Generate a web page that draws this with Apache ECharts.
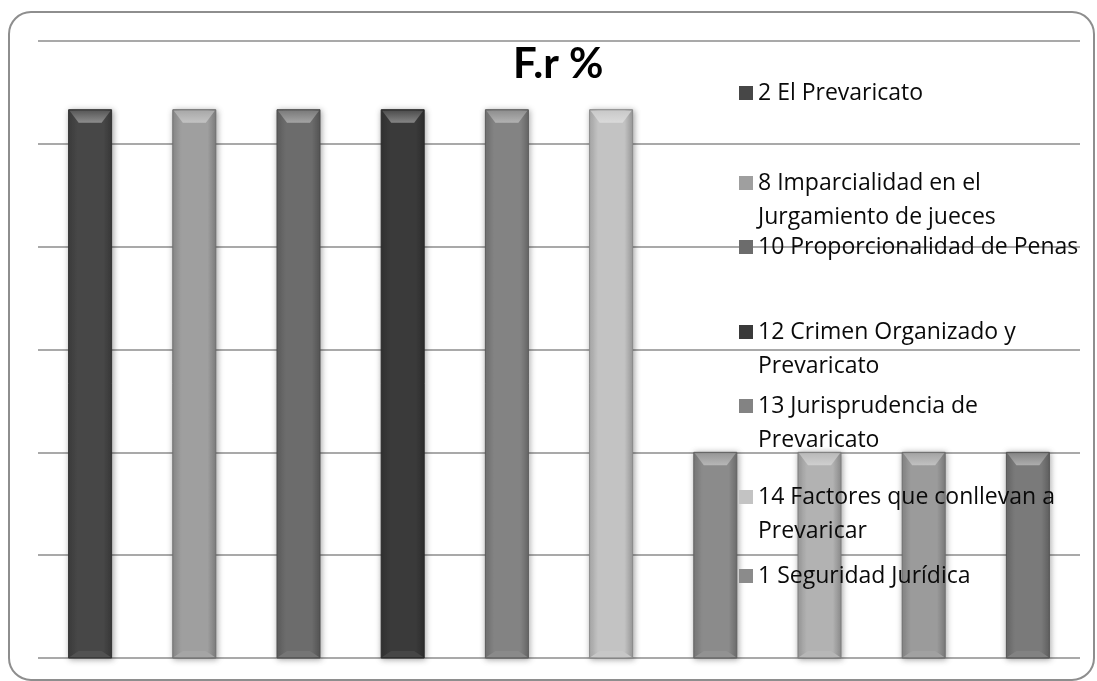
<!DOCTYPE html>
<html>
<head>
<meta charset="utf-8">
<script src="https://cdn.jsdelivr.net/npm/echarts@6/dist/echarts.min.js"></script>
<style>
html,body{margin:0;padding:0;background:#fff;}
#chart{width:1097px;height:681px;}
</style>
</head>
<body>
<div id="chart"></div>
<script>
// ---- data ----
const titleText = 'F.r %';
const categories = [
  '2 El Prevaricato',
  '8 Imparcialidad en el Jurgamiento de jueces',
  '10 Proporcionalidad de Penas',
  '12 Crimen Organizado y Prevaricato',
  '13 Jurisprudencia de Prevaricato',
  '14 Factores que conllevan a Prevaricar',
  '1 Seguridad Jurídica',
  '(sin etiqueta A)',
  '(sin etiqueta B)',
  '(sin etiqueta C)'
];
const values = [13.33, 13.33, 13.33, 13.33, 13.33, 13.33, 5, 5, 5, 5];
const legendLabels = [
  '2 El Prevaricato',
  '8 Imparcialidad en el\nJurgamiento de jueces',
  '10 Proporcionalidad de Penas',
  '12 Crimen Organizado y\nPrevaricato',
  '13 Jurisprudencia de\nPrevaricato',
  '14 Factores que conllevan a\nPrevaricar',
  '1 Seguridad Jurídica'
];
const yMin = 0, yMax = 15, yStep = 2.5;

// ---- style ----
const barColors = ['#474747', '#9f9f9f', '#6c6c6c', '#3a3a3a', '#838383', '#c3c3c3', '#8b8b8b', '#b2b2b2', '#9b9b9b', '#7a7a7a'];
const legendFirstLineY = [93, 183, 247, 332, 406, 497, 576];
const LINE_H = 34;
const BAR_W = 43;
const TITLE_FONT = 'Lato, "Open Sans", sans-serif';
const LEGEND_FONT = '"Open Sans", Lato, sans-serif';

function shade(hex, amt) {
  const n = parseInt(hex.slice(1), 16);
  let r = (n >> 16) & 255, g = (n >> 8) & 255, b = n & 255;
  const f = v => Math.max(0, Math.min(255, Math.round(amt >= 0 ? v + (255 - v) * amt : v * (1 + amt))));
  return 'rgb(' + f(r) + ',' + f(g) + ',' + f(b) + ')';
}

function renderItem(params, api) {
  const i = params.seriesIndex;
  const c = barColors[i];
  const topPt = api.coord([api.value(0), api.value(1)]);
  const basePt = api.coord([api.value(0), 0]);
  const x0 = topPt[0] - BAR_W / 2, x1 = topPt[0] + BAR_W / 2;
  const y0 = topPt[1], y1 = basePt[1];
  const bev = 13, ins = 10;
  return {
    type: 'group',
    children: [
      {
        type: 'rect',
        shape: { x: x0, y: y0, width: BAR_W, height: y1 - y0 },
        style: {
          fill: new echarts.graphic.LinearGradient(0, 0, 1, 0, [
            { offset: 0, color: shade(c, -0.12) },
            { offset: 0.2, color: c },
            { offset: 0.8, color: c },
            { offset: 1, color: shade(c, -0.2) }
          ]),
          stroke: shade(c, -0.3),
          lineWidth: 1,
          shadowBlur: 6,
          shadowColor: 'rgba(0,0,0,0.35)',
          shadowOffsetX: 1,
          shadowOffsetY: 1
        }
      },
      {
        type: 'polygon',
        shape: { points: [[x0 + 1, y0 + 1], [x1 - 1, y0 + 1], [x1 - ins, y0 + bev], [x0 + ins, y0 + bev]] },
        style: {
          fill: new echarts.graphic.LinearGradient(0, 0, 0, 1, [
            { offset: 0, color: shade(c, 0.1) },
            { offset: 1, color: shade(c, 0.38) }
          ])
        }
      },
      {
        type: 'polygon',
        shape: { points: [[x0 + 1, y1 - 1], [x1 - 1, y1 - 1], [x1 - ins, y1 - 7], [x0 + ins, y1 - 7]] },
        style: { fill: shade(c, 0.06) }
      }
    ]
  };
}

const series = categories.map((name, i) => ({
  type: 'custom',
  name: name,
  renderItem: renderItem,
  encode: { x: 0, y: 1 },
  itemStyle: { color: barColors[i] },
  data: [[i, values[i]]],
  z: 2
}));

const legends = legendLabels.map((lab, k) => {
  const twoLine = lab.indexOf('\n') >= 0;
  // a blank leading line keeps the icon level with the first text line
  const shown = twoLine ? ' \n' + lab : lab;
  return {
    data: [categories[k]],
    left: 739,
    top: legendFirstLineY[k] - (twoLine ? LINE_H * 1.5 : LINE_H / 2),
    orient: 'vertical',
    padding: 0,
    icon: 'rect',
    itemWidth: 14,
    itemHeight: 14,
    selectedMode: false,
    formatter: () => shown,
    z: 10,
    textStyle: {
      fontFamily: LEGEND_FONT,
      fontSize: 23,
      color: '#0a0a0a',
      lineHeight: LINE_H
    }
  };
});

const chart = echarts.init(document.getElementById('chart'), null, { renderer: 'canvas' });
chart.setOption({
  backgroundColor: '#fff',
  animation: false,
  title: {
    text: titleText,
    left: 513,
    top: 43,
    padding: 0,
    textStyle: { fontFamily: TITLE_FONT, fontSize: 42, fontWeight: 'bold', color: '#000' }
  },
  legend: legends,
  grid: { left: 38, right: 17, top: 41, bottom: 23 },
  xAxis: {
    type: 'category',
    data: categories,
    axisLine: { show: false },
    axisTick: { show: false },
    axisLabel: { show: false },
    splitLine: { show: false }
  },
  yAxis: {
    type: 'value',
    min: yMin,
    max: yMax,
    interval: yStep,
    axisLine: { show: false },
    axisTick: { show: false },
    axisLabel: { show: false },
    splitLine: { show: true, lineStyle: { color: '#8c8c8c', width: 1.5 } }
  },
  graphic: [{
    type: 'rect',
    shape: { x: 9, y: 12, width: 1085, height: 668, r: 22 },
    style: { fill: null, stroke: '#8e8e8e', lineWidth: 2 },
    z: 0,
    silent: true
  }],
  series: series
});
</script>
</body>
</html>
